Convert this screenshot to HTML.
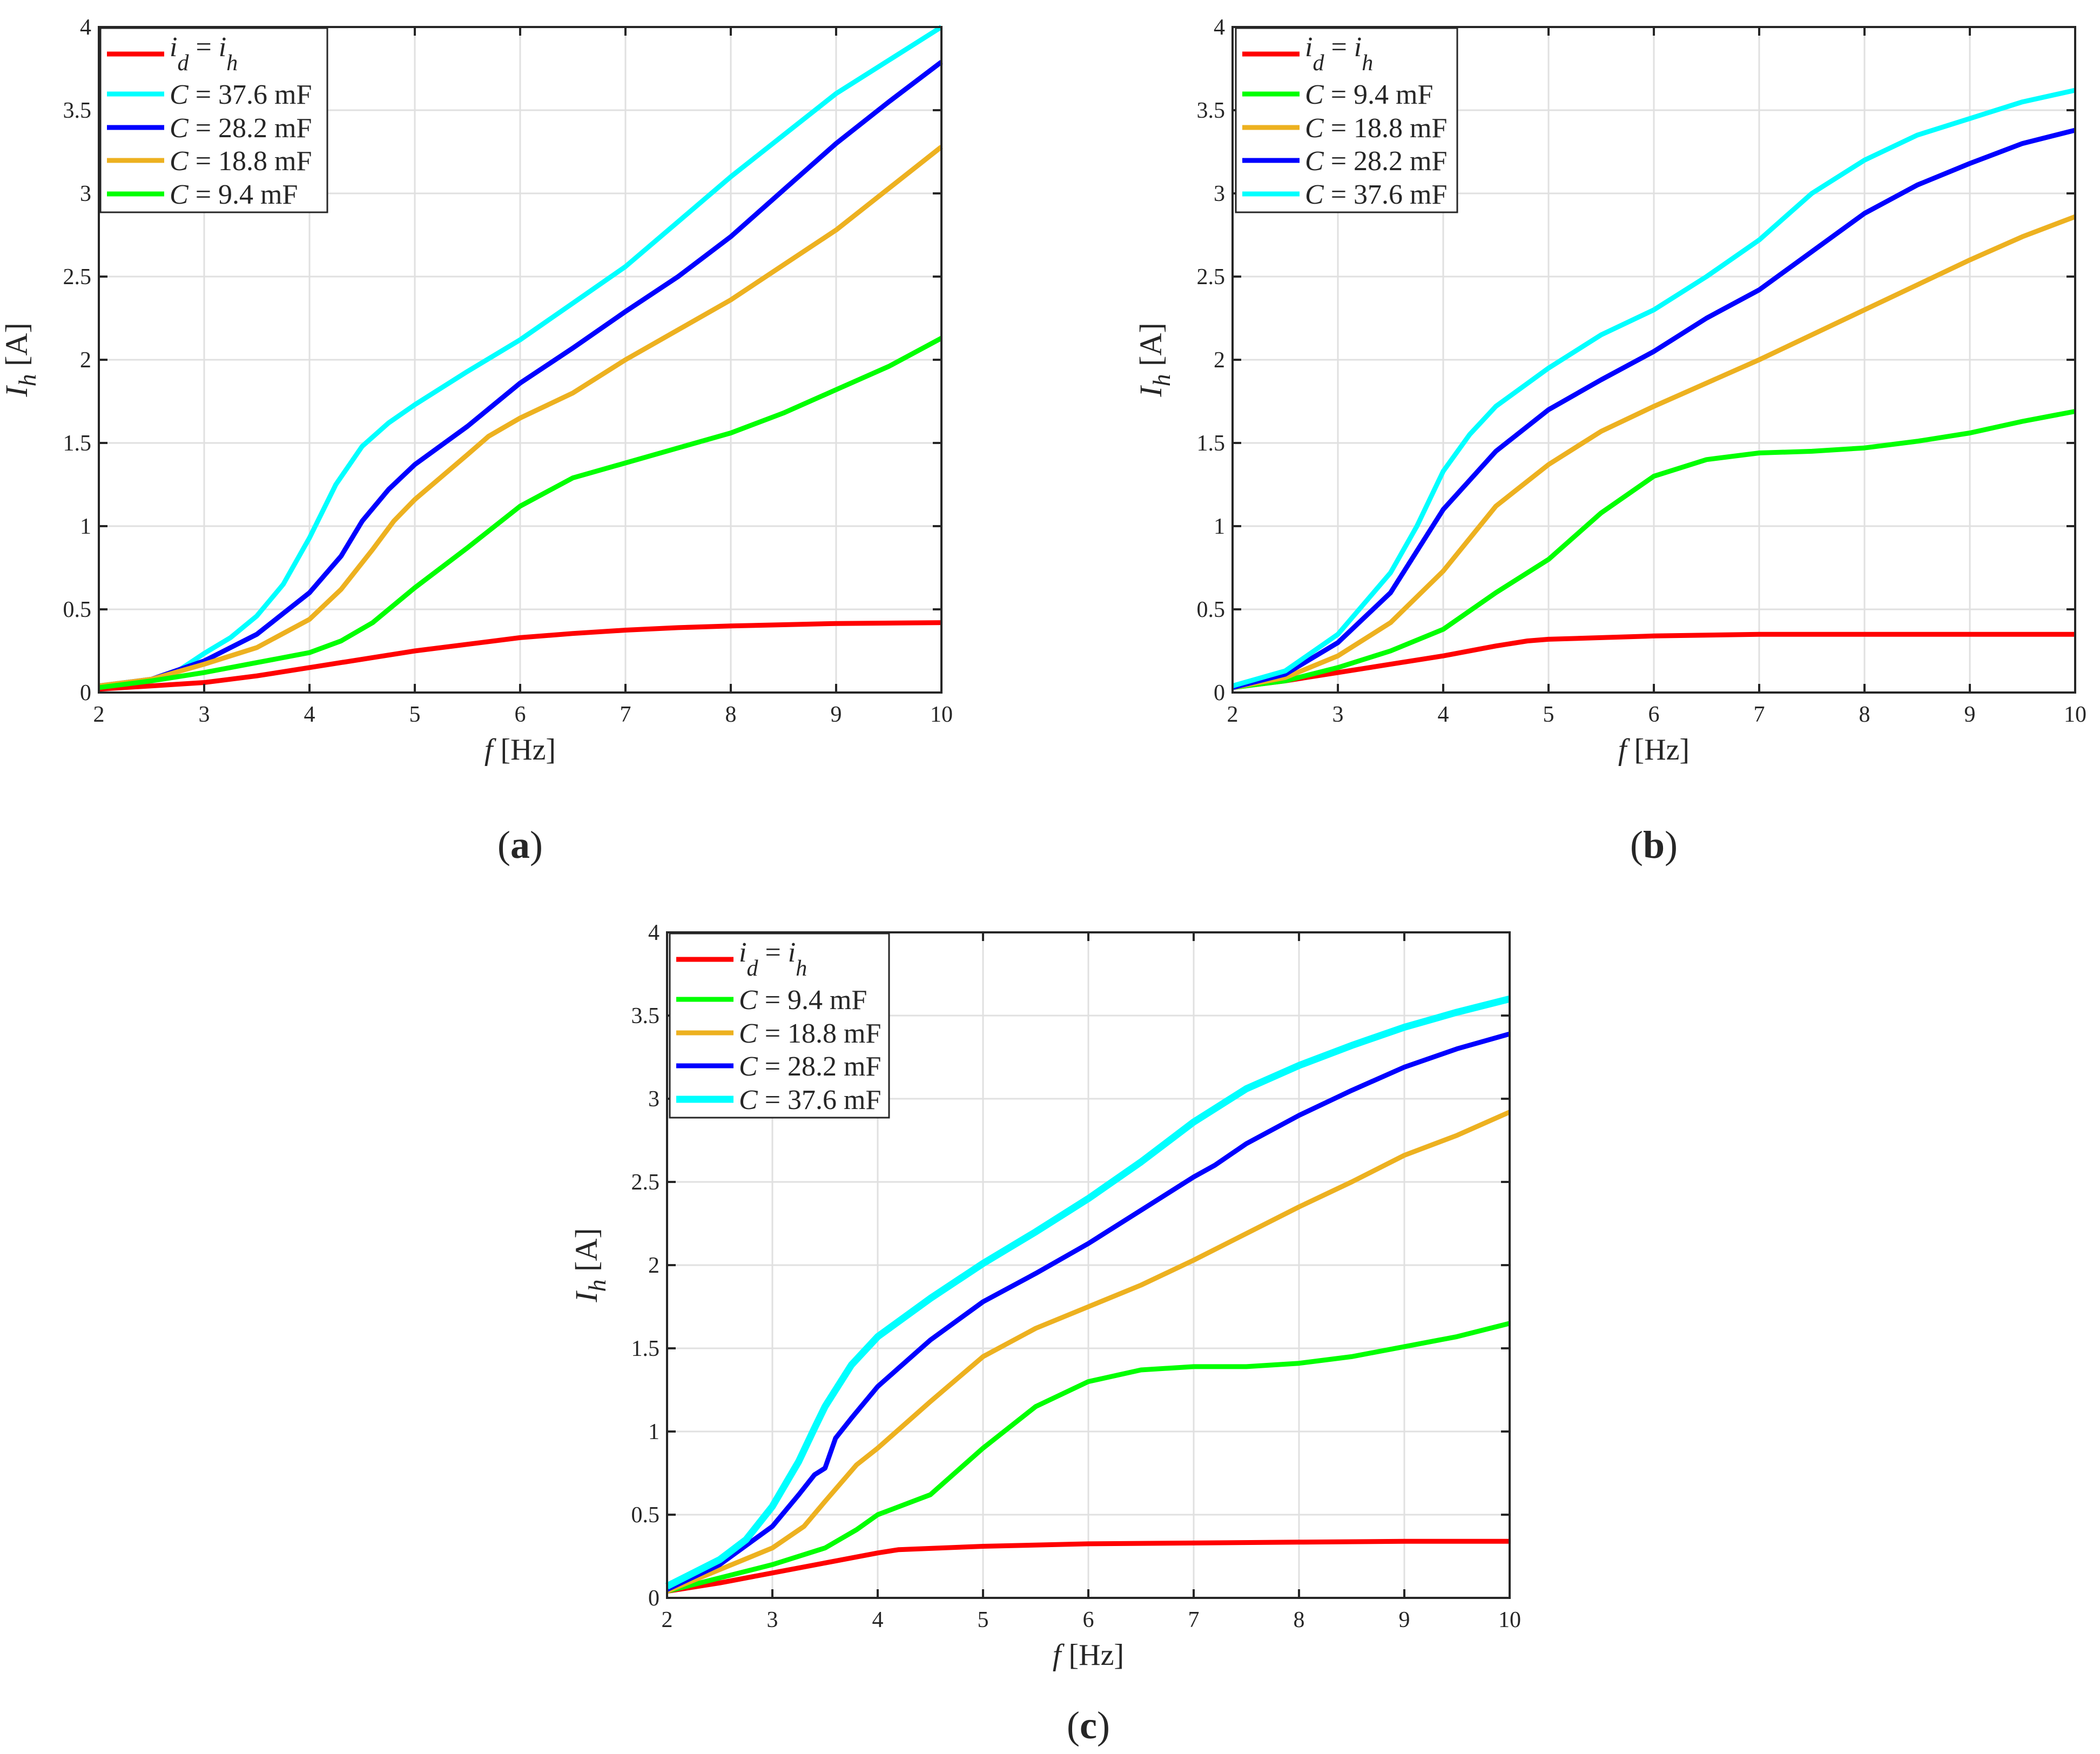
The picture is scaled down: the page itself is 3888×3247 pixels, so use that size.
<!DOCTYPE html>
<html><head><meta charset="utf-8"><style>
html,body{margin:0;padding:0;background:#fff}
svg{display:block}
text{font-family:"Liberation Serif",serif;fill:#262626}
</style></head><body>
<svg id="fig" xmlns="http://www.w3.org/2000/svg" width="3888" height="3247" viewBox="0 0 3888 3247"></svg>
<script>
// ---- data ----
const xTicks = [2,3,4,5,6,7,8,9,10];
const yTicks = [0,0.5,1,1.5,2,2.5,3,3.5,4];
const yTickLabels = ["0","0.5","1","1.5","2","2.5","3","3.5","4"];
const xTickLabels = ["2","3","4","5","6","7","8","9","10"];

// panel a
const aRedX = [2,2.5,3,3.5,4,4.5,5,5.5,6,6.5,7,7.5,8,9,10];
const aRedY = [0.02,0.04,0.06,0.1,0.15,0.2,0.25,0.29,0.33,0.355,0.375,0.39,0.4,0.415,0.42];
const aCyanX = [2,2.5,2.75,3,3.25,3.5,3.75,4,4.25,4.5,4.75,5,5.5,6,6.5,7,7.5,8,8.5,9,9.5,10];
const aCyanY = [0.04,0.08,0.13,0.235,0.33,0.46,0.65,0.93,1.25,1.48,1.62,1.73,1.93,2.12,2.34,2.56,2.83,3.1,3.35,3.6,3.8,4.0];
const aBlueX = [2,2.5,3,3.5,4,4.3,4.5,4.75,5,5.5,6,6.5,7,7.5,8,8.5,9,9.5,10];
const aBlueY = [0.04,0.08,0.19,0.35,0.6,0.82,1.03,1.22,1.37,1.6,1.86,2.07,2.29,2.5,2.74,3.02,3.3,3.55,3.79];
const aOrangeX = [2,2.5,3,3.5,4,4.3,4.6,4.8,5,5.5,5.7,6,6.5,7,7.5,8,8.5,9,9.5,10];
const aOrangeY = [0.04,0.08,0.17,0.27,0.44,0.62,0.86,1.03,1.16,1.43,1.54,1.65,1.8,2.0,2.18,2.36,2.57,2.78,3.03,3.28];
const aGreenX = [2,2.5,3,3.5,4,4.3,4.6,5,5.5,6,6.5,7,7.5,8,8.5,9,9.5,10];
const aGreenY = [0.03,0.07,0.12,0.18,0.24,0.31,0.42,0.63,0.87,1.12,1.29,1.38,1.47,1.56,1.68,1.82,1.96,2.13];

// panel b
const bRedX = [2,2.5,3,3.5,4,4.5,4.8,5,5.5,6,7,8,9,10];
const bRedY = [0.03,0.07,0.12,0.17,0.22,0.28,0.31,0.32,0.33,0.34,0.35,0.35,0.35,0.35];
const bGreenX = [2,2.5,3,3.5,4,4.5,5,5.5,6,6.5,7,7.5,8,8.5,9,9.5,10];
const bGreenY = [0.03,0.07,0.15,0.25,0.38,0.6,0.8,1.08,1.3,1.4,1.44,1.45,1.47,1.51,1.56,1.63,1.69];
const bOrangeX = [2,2.5,3,3.5,4,4.5,5,5.5,6,6.5,7,7.5,8,8.5,9,9.5,10];
const bOrangeY = [0.03,0.09,0.22,0.42,0.73,1.12,1.37,1.57,1.72,1.86,2.0,2.15,2.3,2.45,2.6,2.74,2.86];
const bBlueX = [2,2.5,3,3.5,4,4.5,5,5.5,6,6.5,7,7.5,8,8.5,9,9.5,10];
const bBlueY = [0.03,0.11,0.3,0.6,1.1,1.45,1.7,1.88,2.05,2.25,2.42,2.65,2.88,3.05,3.18,3.3,3.38];
const bCyanX = [2,2.5,3,3.5,3.75,4,4.25,4.5,5,5.5,6,6.5,7,7.5,8,8.5,9,9.5,10];
const bCyanY = [0.04,0.13,0.35,0.72,1.0,1.33,1.55,1.72,1.95,2.15,2.3,2.5,2.72,3.0,3.2,3.35,3.45,3.55,3.62];

// panel c
const cRedX = [2,2.5,3,3.5,4,4.2,5,6,7,8,9,10];
const cRedY = [0.04,0.09,0.15,0.21,0.27,0.29,0.31,0.325,0.33,0.335,0.34,0.34];
const cGreenX = [2,2.5,3,3.5,3.8,4,4.5,5,5.5,6,6.5,7,7.5,8,8.5,9,9.5,10];
const cGreenY = [0.04,0.12,0.2,0.3,0.41,0.5,0.62,0.9,1.15,1.3,1.37,1.39,1.39,1.41,1.45,1.51,1.57,1.65];
const cOrangeX = [2,2.5,3,3.3,3.5,3.8,4,4.5,5,5.5,6,6.5,7,7.5,8,8.5,9,9.5,10];
const cOrangeY = [0.04,0.17,0.3,0.43,0.58,0.8,0.9,1.18,1.45,1.62,1.75,1.88,2.03,2.19,2.35,2.5,2.66,2.78,2.92];
const cBlueX = [2,2.5,3,3.25,3.4,3.5,3.6,3.75,4,4.5,5,5.5,6,6.5,7,7.2,7.5,8,8.5,9,9.5,10];
const cBlueY = [0.05,0.2,0.43,0.62,0.74,0.78,0.96,1.08,1.27,1.55,1.78,1.95,2.13,2.33,2.53,2.6,2.73,2.9,3.05,3.19,3.3,3.39];
const cCyanX = [2,2.5,2.75,3,3.25,3.4,3.5,3.75,4,4.5,5,5.5,6,6.5,7,7.5,8,8.5,9,9.5,10];
const cCyanY = [0.07,0.23,0.35,0.55,0.82,1.02,1.15,1.4,1.57,1.8,2.01,2.2,2.4,2.62,2.86,3.06,3.2,3.32,3.43,3.52,3.6];

const RED="#ff0000", CYAN="#00ffff", BLUE="#0000ff", ORANGE="#edb120", GREEN="#00ff00";
const NS="http://www.w3.org/2000/svg";
const svg=document.getElementById('fig');
function mk(tag,attrs,parent){const e=document.createElementNS(NS,tag);for(const k in attrs)e.setAttribute(k,attrs[k]);(parent||svg).appendChild(e);return e;}

const panels=[
 {id:'a',L:183,T:50,W:1560,H:1232,ylabX:50,cap:'a',capY:1588,
  legend:{x:186,w:420},
  series:[['red',aRedX,aRedY,RED,9,'iDiH'],['cyan',aCyanX,aCyanY,CYAN,9,'37.6'],['blue',aBlueX,aBlueY,BLUE,9,'28.2'],['orange',aOrangeX,aOrangeY,ORANGE,9,'18.8'],['green',aGreenX,aGreenY,GREEN,9,'9.4']]},
 {id:'b',L:2282,T:50,W:1560,H:1232,ylabX:2150,cap:'b',capY:1588,
  legend:{x:2288,w:410},
  series:[['red',bRedX,bRedY,RED,9,'iDiH'],['green',bGreenX,bGreenY,GREEN,9,'9.4'],['orange',bOrangeX,bOrangeY,ORANGE,9,'18.8'],['blue',bBlueX,bBlueY,BLUE,9,'28.2'],['cyan',bCyanX,bCyanY,CYAN,9,'37.6']]},
 {id:'c',L:1235,T:1726,W:1560,H:1232,ylabX:1105,cap:'c',capY:3218,
  legend:{x:1240,w:406},
  series:[['red',cRedX,cRedY,RED,9,'iDiH'],['green',cGreenX,cGreenY,GREEN,9,'9.4'],['orange',cOrangeX,cOrangeY,ORANGE,9,'18.8'],['blue',cBlueX,cBlueY,BLUE,9,'28.2'],['cyan',cCyanX,cCyanY,CYAN,13,'37.6']]}
];

panels.forEach(p=>{
  const g=mk('g',{});
  
  
  const sx=v=>p.L+(v-2)/8*p.W;
  const sy=v=>p.T+p.H-(v/4)*p.H;
  xTicks.forEach(t=>{ if(t>2&&t<10){const l=mk('line',{x1:sx(t),x2:sx(t),y1:p.T,y2:p.T+p.H,stroke:'#e0e0e0','stroke-width':3},g);
    
    }});
  yTicks.forEach(t=>{ if(t>0&&t<4){const l=mk('line',{x1:p.L,x2:p.L+p.W,y1:sy(t),y2:sy(t),stroke:'#e0e0e0','stroke-width':3},g);
    
    }});
  p.series.forEach(s=>{
    const pts=s[1].map((x,i)=>sx(x).toFixed(1)+','+sy(s[2][i]).toFixed(1)).join(' ');
    const pl=mk('polyline',{points:pts,fill:'none',stroke:s[3],'stroke-width':s[4],'stroke-linejoin':'round','stroke-linecap':'butt'},g);
    
    
  });
  const box=mk('rect',{x:p.L,y:p.T,width:p.W,height:p.H,fill:'none',stroke:'#262626','stroke-width':4},g);
  
  
  xTicks.forEach((t,i)=>{
    mk('line',{x1:sx(t),x2:sx(t),y1:p.T+p.H,y2:p.T+p.H-16,stroke:'#262626','stroke-width':4},g);
    mk('line',{x1:sx(t),x2:sx(t),y1:p.T,y2:p.T+16,stroke:'#262626','stroke-width':4},g);
    const tx=mk('text',{x:sx(t),y:p.T+p.H+54,'font-size':42,'text-anchor':'middle'},g);
    tx.textContent=xTickLabels[i];
    
    
  });
  yTicks.forEach((t,i)=>{
    mk('line',{x1:p.L,x2:p.L+16,y1:sy(t),y2:sy(t),stroke:'#262626','stroke-width':4},g);
    mk('line',{x1:p.L+p.W,x2:p.L+p.W-16,y1:sy(t),y2:sy(t),stroke:'#262626','stroke-width':4},g);
    const tx=mk('text',{x:p.L-14,y:sy(t)+14,'font-size':42,'text-anchor':'end'},g);
    tx.textContent=yTickLabels[i];
    
    
  });
  const xt=mk('text',{x:p.L+p.W/2,y:p.T+p.H+124,'font-size':56,'text-anchor':'middle'},g);
  xt.innerHTML='<tspan font-style="italic">f</tspan> [Hz]';
  
  
  const cy=p.T+p.H/2;
  const yt=mk('text',{x:p.ylabX,y:cy,'font-size':58,'text-anchor':'middle',transform:'rotate(-90 '+p.ylabX+' '+cy+')'},g);
  yt.innerHTML='<tspan font-style="italic">I</tspan><tspan font-style="italic" font-size="46" dy="16">h</tspan><tspan dy="-16"> [A]</tspan>';
  
  
  const cp=mk('text',{x:p.L+p.W/2,y:p.capY,'font-size':72,'text-anchor':'middle',fill:'#000'},g);
  cp.innerHTML='(<tspan font-weight="bold">'+p.cap+'</tspan>)';
  
  
  const lg=mk('g',{},g);
  
  
  mk('rect',{x:p.legend.x,y:p.T+2,width:p.legend.w,height:341,fill:'#fff',stroke:'#262626','stroke-width':3},lg);
  const rows=[50,124,186,247,309];
  p.series.forEach((s,i)=>{
    const ry=p.T+rows[i];
    mk('line',{x1:p.legend.x+12,x2:p.legend.x+118,y1:ry,y2:ry,stroke:s[3],'stroke-width':s[4]},lg);
    const t=mk('text',{x:p.legend.x+128,y:ry+(i==0?4:18),'font-size':52,fill:'#000'},lg);
    if(s[5]==='iDiH'){
      t.innerHTML='<tspan font-style="italic">i</tspan><tspan font-style="italic" font-size="42" dy="26">d</tspan><tspan dy="-26"> = </tspan><tspan font-style="italic">i</tspan><tspan font-style="italic" font-size="42" dy="26">h</tspan>';
    } else {
      t.innerHTML='<tspan font-style="italic">C</tspan> = '+s[5]+' mF';
    }
    
    
  });
});
</script>
</body></html>
